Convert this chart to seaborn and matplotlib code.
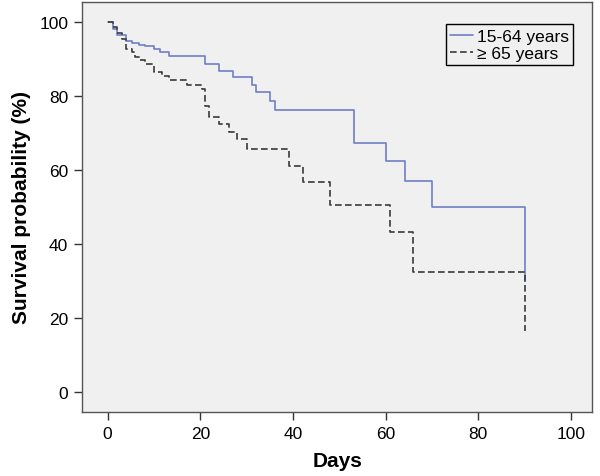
import numpy as np
import pandas as pd
import matplotlib
matplotlib.use("Agg")
import matplotlib.pyplot as plt
import seaborn as sns

# Kaplan-Meier step data
days_young = [0, 1.2, 2, 4, 5.3, 6.7, 8.1, 9.9, 11.2, 13.2, 21.1, 24, 27.1, 31.2, 32, 35.1, 36.2, 53.1, 60.1, 64.1, 70.1, 90, 90]
surv_young = [100, 98.0, 96.5, 94.7, 94.2, 93.8, 93.3, 92.6, 91.7, 90.8, 88.5, 86.7, 85.0, 83.0, 80.9, 78.6, 76.2, 67.2, 62.5, 57.1, 50.0, 50.0, 30.0]

days_old = [0, 1.2, 2, 3.2, 4, 5.3, 6, 7, 8.1, 9.9, 11.7, 13.3, 17.1, 20.4, 21.1, 21.9, 24, 26.1, 28, 30.1, 39.1, 42.1, 48.1, 61, 66, 90, 90]
surv_old = [100, 98.5, 96.8, 95.3, 92.6, 91.7, 90.4, 89.5, 88.6, 86.5, 85.4, 84.3, 82.9, 81.8, 77.3, 74.3, 72.5, 70.2, 68.2, 65.6, 61.1, 56.8, 50.5, 43.3, 32.5, 32.5, 16.6]

group_labels = ["15-64 years", "\u2265 65 years"]
x_ticks = [0, 20, 40, 60, 80, 100]
y_ticks = [0, 20, 40, 60, 80, 100]

df = pd.concat([
    pd.DataFrame({"Days": days_young, "Survival": surv_young, "Group": group_labels[0]}),
    pd.DataFrame({"Days": days_old, "Survival": surv_old, "Group": group_labels[1]}),
], ignore_index=True)

sns.set_theme(style="white")
plt.rcParams["font.family"] = ["Liberation Sans", "DejaVu Sans"]

fig = plt.figure(figsize=(6.0, 4.77), dpi=100)
ax = fig.add_axes([0.137, 0.134, 0.850, 0.860])
ax.set_facecolor("#f0f0f0")

palette = {group_labels[0]: "#6f7fc4", group_labels[1]: "#3a3a3a"}
dashes = {group_labels[0]: "", group_labels[1]: (4, 2)}

sns.lineplot(data=df, x="Days", y="Survival", hue="Group", style="Group",
             palette=palette, dashes=dashes, estimator=None, sort=False,
             units="Group", drawstyle="steps-post", linewidth=1.2, ax=ax,
             legend=False)

ax.set_xlim(-5.5, 104.6)
ax.set_ylim(-5.3, 105.3)
ax.set_xticks(x_ticks)
ax.set_yticks(y_ticks)
ax.tick_params(axis="both", direction="out", length=6, width=1, color="#333333",
               labelsize=12.5, pad=4, bottom=True, left=True)
for lab in ax.get_xticklabels() + ax.get_yticklabels():
    lab.set_color("black")
for s in ax.spines.values():
    s.set_color("#555555")
    s.set_linewidth(1.0)

ax.set_xlabel("Days", fontsize=15, fontweight="bold", labelpad=7, color="black")
ax.set_ylabel("Survival probability (%)", fontsize=15, fontweight="bold", labelpad=6,
              color="black")

lines = ax.get_lines()
leg = ax.legend(lines[:2], group_labels, loc="upper right", bbox_to_anchor=(0.963, 0.945),
                frameon=True, fancybox=False, framealpha=1, facecolor="#f0f0f0",
                edgecolor="black", fontsize=12.5, handlelength=1.3, handletextpad=0.25,
                borderpad=0.25, labelspacing=0.1, borderaxespad=0.0)
leg.get_frame().set_linewidth(1.0)
for t in leg.get_texts():
    t.set_color("black")

fig.savefig("out.png", dpi=100, facecolor="white")
